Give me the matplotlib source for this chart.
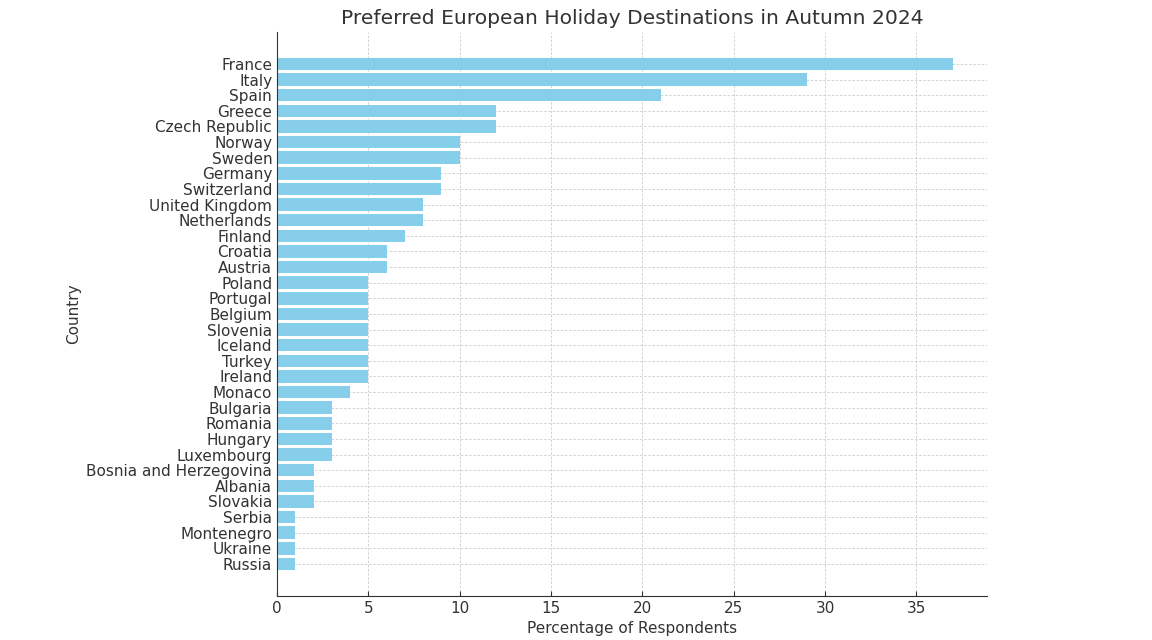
import matplotlib
matplotlib.use('Agg')
import matplotlib.pyplot as plt

countries = ['France', 'Italy', 'Spain', 'Greece', 'Czech Republic', 'Norway', 'Sweden',
             'Germany', 'Switzerland', 'United Kingdom', 'Netherlands', 'Finland', 'Croatia',
             'Austria', 'Poland', 'Portugal', 'Belgium', 'Slovenia', 'Iceland', 'Turkey',
             'Ireland', 'Monaco', 'Bulgaria', 'Romania', 'Hungary', 'Luxembourg',
             'Bosnia and Herzegovina', 'Albania', 'Slovakia', 'Serbia', 'Montenegro',
             'Ukraine', 'Russia']
percentages = [37, 29, 21, 12, 12, 10, 10, 9, 9, 8, 8, 7, 6, 6, 5, 5, 5, 5, 5, 5, 5, 4,
               3, 3, 3, 3, 2, 2, 2, 1, 1, 1, 1]

fig = plt.figure(figsize=(11.52, 6.4), dpi=100)
ax = fig.add_axes([0.2405, 0.069, 0.616, 0.881])

ax.barh(countries, percentages, color='skyblue')
ax.invert_yaxis()

ax.set_title('Preferred European Holiday Destinations in Autumn 2024', fontsize=14.6, color='#333333')
ax.set_xlabel('Percentage of Respondents', fontsize=11, color='#333333')
ax.set_ylabel('Country', fontsize=11, color='#333333')
ax.tick_params(axis='both', labelsize=11, direction='in', colors='#333333')
ax.grid(True, linestyle=(0, (3, 2)), color='#cccccc', linewidth=0.6)
ax.set_axisbelow(True)
ax.spines['top'].set_visible(False)
ax.spines['right'].set_visible(False)
ax.spines['left'].set_color('#333333')
ax.spines['bottom'].set_color('#333333')

fig.savefig('out.png', dpi=100)
